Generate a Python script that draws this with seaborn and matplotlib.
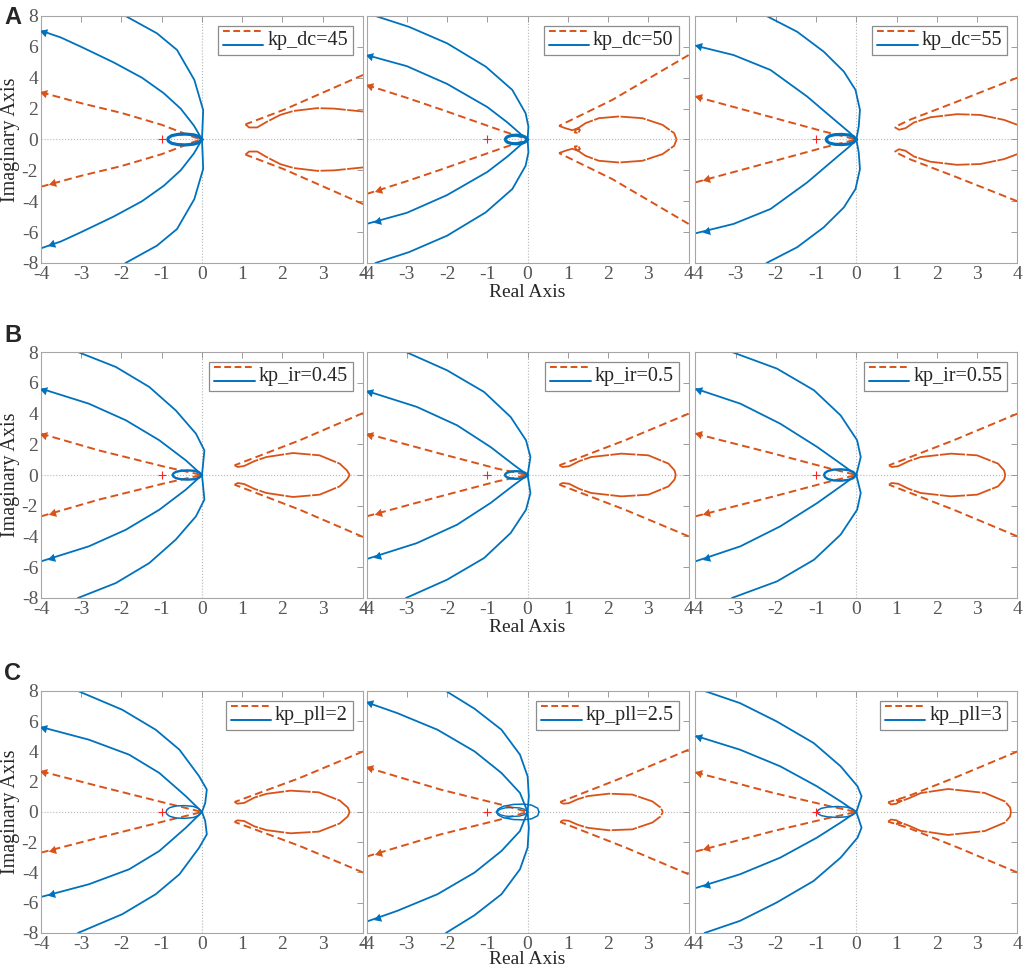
import numpy as np
import matplotlib
matplotlib.use("Agg")
import matplotlib.pyplot as plt
import seaborn as sns
from matplotlib.lines import Line2D
from matplotlib.legend_handler import HandlerBase

# -----------------------------
# Data (upper half of each Nyquist branch;
# the lower half is the complex conjugate)
# panel order: A1 A2 A3  B1 B2 B3  C1 C2 C3
# -----------------------------
legend_labels = ["kp_dc=45", "kp_dc=50", "kp_dc=55",
                 "kp_ir=0.45", "kp_ir=0.5", "kp_ir=0.55",
                 "kp_pll=2", "kp_pll=2.5", "kp_pll=3"]
row_letters = ["A", "B", "C"]
critical_point = (-1, 0)

blue_outer = [
    [(-1.9, 8), (-1.12, 6.88), (-0.62, 5.8), (-0.19, 3.86), (0.03, 1.9), (0.01, 0.6), (0, 0)],
    [(-3.78, 8), (-2.95, 7.3), (-2.0, 6.23), (-1.04, 4.72), (-0.38, 3.21), (-0.05, 1.7), (0.02, 0.84), (0, 0)],
    [(-2.23, 8), (-1.47, 6.98), (-0.81, 5.69), (-0.31, 4.4), (-0.02, 3.21), (0.09, 1.92), (0.06, 0.84), (0, 0)],
    [(-3.08, 8), (-2.14, 7.03), (-1.31, 5.73), (-0.65, 4.2), (-0.15, 2.69), (0.06, 1.6), (0.02, 0.52), (0, 0)],
    [(-3.02, 8), (-2.0, 6.81), (-1.08, 5.4), (-0.42, 3.77), (-0.04, 2.26), (0.07, 1.17), (0, 0)],
    [(-3.09, 8), (-1.97, 6.92), (-1.05, 5.51), (-0.39, 3.88), (0.02, 2.26), (0.11, 1.17), (0, 0)],
    [(-3.08, 8), (-1.98, 6.76), (-1.15, 5.44), (-0.56, 4.12), (-0.07, 2.36), (0.12, 1.48), (0.08, 0.59), (0, 0)],
    [(-2.03, 8), (-1.32, 6.83), (-0.65, 5.44), (-0.19, 3.79), (0.0, 2.36), (0.03, 1.04), (0, 0)],
    [(-3.77, 8), (-2.89, 7.2), (-1.98, 5.99), (-1.06, 4.56), (-0.39, 3.02), (0.03, 1.7), (0.13, 1.04), (0, 0)],
]

blue_inner = [
    [(-4, 7.05), (-3.5, 6.6), (-3.0, 6.0), (-2.2, 5.0), (-1.49, 4.0), (-0.95, 3.0), (-0.53, 2.0), (-0.2, 0.9), (0, 0)],
    [(-4, 5.47), (-3.0, 4.75), (-2.0, 3.6), (-1.0, 2.1), (-0.5, 1.1), (-0.15, 0.3), (0, 0)],
    [(-4, 6.08), (-3.05, 5.47), (-2.13, 4.5), (-1.22, 2.78), (-0.64, 1.49), (-0.15, 0.41), (0, 0)],
    [(-4, 5.62), (-2.81, 4.64), (-1.89, 3.56), (-1.06, 2.26), (-0.4, 0.95), (0, 0)],
    [(-4, 5.47), (-2.75, 4.43), (-1.75, 3.23), (-0.92, 1.82), (-0.33, 0.63), (0, 0)],
    [(-4, 5.62), (-2.88, 4.64), (-1.89, 3.34), (-0.97, 1.82), (-0.39, 0.74), (0, 0)],
    [(-4, 5.62), (-2.81, 4.78), (-1.81, 3.79), (-1.06, 2.58), (-0.4, 1.04), (0, 0)],
    [(-4, 7.25), (-3.24, 6.54), (-2.24, 5.44), (-1.32, 4.01), (-0.65, 2.58), (-0.19, 1.26), (0, 0)],
    [(-4, 5.04), (-2.89, 4.12), (-1.89, 3.02), (-0.98, 1.7), (-0.39, 0.7), (0, 0)],
]

orange_left = [
    [(-4, 3.06), (-3, 2.35), (-2, 1.72), (-1, 0.95), (-0.5, 0.45), (-0.2, 0.15), (0, 0)],
    [(-4, 3.53), (-3, 2.7), (-2.12, 1.92), (-0.71, 0.63), (0, 0)],
    [(-4, 2.78), (-2.47, 1.7), (-0.81, 0.52), (0, 0)],
    [(-4, 2.69), (-2.56, 1.6), (-0.9, 0.52), (0, 0)],
    [(-4, 2.69), (-2.17, 1.39), (-0.75, 0.41), (0, 0)],
    [(-4, 2.69), (-2.05, 1.39), (-0.64, 0.41), (0, 0)],
    [(-4, 2.69), (-2.56, 1.7), (-0.9, 0.59), (0, 0)],
    [(-4, 2.95), (-2.16, 1.48), (-0.65, 0.48), (0, 0)],
    [(-4, 2.62), (-2.06, 1.26), (-0.64, 0.37), (0, 0)],
]

orange_right_outer = [
    [(4, 4.18), (2.03, 1.92), (1.08, 0.98)],
    [(4, 5.47), (2.1, 2.56), (0.78, 0.88)],
    [(4, 4.0), (2.5, 2.45), (1.35, 1.3), (0.95, 0.8)],
    [(4, 4.03), (2.43, 2.26), (0.81, 0.63)],
    [(4, 3.99), (2.42, 2.26), (0.79, 0.63)],
    [(4, 3.99), (2.42, 2.26), (0.81, 0.63)],
    [(4, 4.0), (2.43, 2.25), (0.81, 0.66)],
    [(4, 4.12), (2.44, 2.36), (0.81, 0.66)],
    [(4, 4.0), (2.53, 2.36), (1.28, 1.04), (0.79, 0.64)],
]

orange_right_inner = [
    [(1.08, 0.98), (1.17, 0.78), (1.37, 0.78), (1.62, 1.16), (1.95, 1.6), (2.28, 1.85),
     (2.86, 2.03), (3.28, 2.0), (4, 1.81)],
    [(0.78, 0.88), (0.95, 0.72), (1.11, 0.6), (1.24, 0.72), (1.3, 0.62), (1.26, 0.42),
     (1.17, 0.45), (1.2, 0.62), (1.32, 0.85), (1.44, 1.06), (1.77, 1.38), (2.27, 1.49),
     (2.85, 1.38), (3.35, 0.95), (3.64, 0.41), (3.7, 0)],
    [(0.95, 0.8), (1.06, 0.63), (1.22, 0.73), (1.43, 1.1), (1.84, 1.44), (2.5, 1.64),
     (3.08, 1.59), (3.67, 1.27), (4, 0.95)],
    [(0.81, 0.63), (0.89, 0.52), (1.05, 0.59), (1.3, 0.9), (1.6, 1.17), (2.26, 1.43),
     (2.92, 1.28), (3.42, 0.74), (3.6, 0.3), (3.67, 0)],
    [(0.79, 0.63), (0.87, 0.52), (1.03, 0.57), (1.28, 0.9), (1.58, 1.17), (2.33, 1.39),
     (3.0, 1.28), (3.5, 0.74), (3.65, 0.3), (3.68, 0)],
    [(0.81, 0.63), (0.88, 0.52), (1.04, 0.57), (1.3, 0.9), (1.6, 1.17), (2.35, 1.39),
     (3.0, 1.28), (3.52, 0.74), (3.67, 0.3), (3.7, 0)],
    [(0.81, 0.66), (0.88, 0.55), (1.05, 0.6), (1.3, 0.95), (1.6, 1.2), (2.2, 1.41),
     (2.9, 1.3), (3.42, 0.76), (3.62, 0.3), (3.67, 0)],
    [(0.81, 0.66), (0.88, 0.55), (1.02, 0.58), (1.25, 0.85), (1.5, 1.05), (2.02, 1.21),
     (2.6, 1.15), (3.1, 0.7), (3.3, 0.3), (3.36, 0)],
    [(0.79, 0.64), (0.86, 0.5), (1.0, 0.55), (1.1, 0.75), (1.0, 0.8), (1.05, 0.65),
     (1.3, 0.9), (1.6, 1.25), (2.28, 1.52), (3.19, 1.26), (3.69, 0.7), (3.82, 0.3), (3.84, 0)],
]

blue_loop = [
    [(0, 0), (-0.08, 0.2), (-0.2, 0.3), (-0.4, 0.35), (-0.6, 0.33), (-0.75, 0.25), (-0.83, 0.12), (-0.85, 0)],
    [(0, 0), (-0.06, 0.16), (-0.15, 0.25), (-0.28, 0.28), (-0.4, 0.26), (-0.5, 0.18), (-0.54, 0.09), (-0.55, 0)],
    [(0, 0), (-0.07, 0.19), (-0.18, 0.29), (-0.36, 0.33), (-0.54, 0.31), (-0.67, 0.23), (-0.73, 0.11), (-0.75, 0)],
    [(0, 0), (-0.07, 0.17), (-0.18, 0.27), (-0.35, 0.3), (-0.52, 0.28), (-0.65, 0.2), (-0.71, 0.1), (-0.73, 0)],
    [(0, 0), (-0.06, 0.14), (-0.15, 0.22), (-0.28, 0.25), (-0.41, 0.23), (-0.5, 0.16), (-0.55, 0.08), (-0.56, 0)],
    [(0, 0), (-0.08, 0.21), (-0.2, 0.32), (-0.38, 0.37), (-0.57, 0.35), (-0.71, 0.26), (-0.78, 0.13), (-0.8, 0)],
    [(0, 0), (-0.09, 0.24), (-0.22, 0.37), (-0.43, 0.42), (-0.64, 0.4), (-0.8, 0.29), (-0.87, 0.15), (-0.89, 0)],
    [(0.28, 0), (0.25, 0.25), (0.1, 0.45), (-0.1, 0.52), (-0.35, 0.5), (-0.6, 0.38), (-0.73, 0.2), (-0.78, 0)],
    [(0, 0), (-0.1, 0.21), (-0.24, 0.32), (-0.47, 0.36), (-0.7, 0.33), (-0.87, 0.24), (-0.95, 0.12), (-0.97, 0)],
]
# second, smaller loop visible only in panel C2
blue_loop_c2 = [(0, 0), (-0.08, 0.18), (-0.2, 0.27), (-0.38, 0.3), (-0.56, 0.27), (-0.68, 0.18), (-0.73, 0.09), (-0.75, 0)]

# -----------------------------
# Style
# -----------------------------
BLUE = "#0072BD"
ORANGE = "#D95319"
TICK_GREY = "#555555"
SERIF = ["Liberation Serif", "DejaVu Serif"]

sns.set_style("white")
plt.rcParams["font.family"] = SERIF
plt.rcParams["axes.unicode_minus"] = False
plt.rcParams["xtick.direction"] = "in"
plt.rcParams["ytick.direction"] = "in"

fig = plt.figure(figsize=(10.24, 9.69), dpi=100)

col_left = [0.040, 0.358, 0.679]
col_w = 0.3145
row_bottom = [0.7286, 0.3829, 0.0372]
row_h = [0.2549, 0.2538, 0.2497]
letter_y = [0.982, 0.654, 0.305]
loop_lw = [2.3, 1.7, 1.1]
xlabel_pad = [1, 1, -1.5]


class PairHandler(HandlerBase):
    # dashed orange over solid blue, one text label (as in MATLAB nyquist legend)
    def create_artists(self, legend, orig_handle, xdescent, ydescent,
                       width, height, fontsize, trans):
        x = [-xdescent, width - xdescent]
        top = Line2D(x, [height * 1.0 - ydescent] * 2, color=ORANGE, lw=1.4,
                     ls=(0, (3.5, 1.8)), transform=trans)
        bot = Line2D(x, [height * 0.0 - ydescent] * 2, color=BLUE, lw=1.4,
                     transform=trans)
        return [top, bot]


def draw(ax, pts, flip=False, **kw):
    pts = np.asarray(pts, dtype=float)
    y = -pts[:, 1] if flip else pts[:, 1]
    sns.lineplot(x=pts[:, 0], y=y, sort=False, estimator=None, ax=ax,
                 legend=False, **kw)


def draw_loop(ax, pts, **kw):
    pts = np.asarray(pts, dtype=float)
    low = pts[::-1].copy()
    low[:, 1] *= -1
    full = np.vstack([pts, low])
    sns.lineplot(x=full[:, 0], y=full[:, 1], sort=False, estimator=None, ax=ax,
                 legend=False, **kw)


def arrow(ax, pts, xt, color, flip=False):
    p0 = np.asarray(pts[0], dtype=float)
    p1 = np.asarray(pts[1], dtype=float)
    t = (xt - p0[0]) / (p1[0] - p0[0])
    p = p0 + t * (p1 - p0)
    d = p0 - p1
    if flip:
        p[1] = -p[1]
        d[1] = -d[1]
    a = ax.transData.transform(p)
    b = ax.transData.transform(p + 0.05 * d)
    ang = np.degrees(np.arctan2(b[1] - a[1], b[0] - a[0]))
    ax.plot(p[0], p[1], marker=(3, 0, ang - 90), ms=7, color=color,
            mew=0, zorder=5)


for k in range(9):
    r, c = divmod(k, 3)
    ax = fig.add_axes([col_left[c], row_bottom[r], col_w, row_h[r]])
    ax.set_xlim(-4, 4)
    ax.set_ylim(-8, 8)

    ax.axhline(0, color="#b5b5b5", ls=":", lw=0.8, zorder=0)
    ax.axvline(0, color="#b5b5b5", ls=":", lw=0.8, zorder=0)

    for flip in (False, True):
        draw(ax, blue_outer[k], flip, color=BLUE, lw=1.3)
        draw(ax, blue_inner[k], flip, color=BLUE, lw=1.3)
        draw(ax, orange_left[k], flip, color=ORANGE, lw=1.4, ls=(0, (4, 2.2)))
        draw(ax, orange_right_outer[k], flip, color=ORANGE, lw=1.4, ls=(0, (4, 2.2)))
        draw(ax, orange_right_inner[k], flip, color=ORANGE, lw=1.3, ls=(0, (14, 0.8)))

    draw_loop(ax, blue_loop[k], color=BLUE, lw=loop_lw[r])
    if k == 7:
        draw_loop(ax, blue_loop_c2, color=BLUE, lw=1.0)

    ax.plot(*critical_point, marker="+", color="#ff2020", ms=6, mew=0.8, zorder=4)

    arrow(ax, blue_inner[k], -3.92, BLUE)
    arrow(ax, blue_inner[k], -3.72, BLUE, flip=True)
    arrow(ax, orange_left[k], -3.92, ORANGE)
    arrow(ax, orange_left[k], -3.70, ORANGE, flip=True)

    ax.set_xticks(np.arange(-4, 5, 1))
    ax.set_yticks(np.arange(-8, 9, 2))
    ax.tick_params(axis="both", which="both", top=True, right=True, length=4,
                   width=0.6, color="#8c8c8c", labelsize=14,
                   labelcolor=TICK_GREY, pad=2)
    if c != 0:
        ax.set_yticklabels([])
    else:
        ax.set_ylabel("Imaginary Axis", fontsize=14.5, labelpad=1)
    if c == 1:
        ax.set_xlabel("Real Axis", fontsize=14, labelpad=xlabel_pad[r])
    for s in ax.spines.values():
        s.set_color("#a6a6a6")
        s.set_linewidth(0.8)

    h = Line2D([], [])
    leg = ax.legend([h], [legend_labels[k]], handler_map={Line2D: PairHandler()},
                    loc="upper right", fontsize=14.5, frameon=True, fancybox=False,
                    edgecolor="#8c8c8c", framealpha=1, borderpad=0.25,
                    handlelength=2.0, handletextpad=0.2, borderaxespad=0.5)
    leg.get_frame().set_linewidth(0.9)

    if c == 0:
        fig.text(0.004, letter_y[r], row_letters[r], fontsize=17, fontweight="bold",
                 family=["Liberation Sans", "DejaVu Sans"], va="center", ha="left")

plt.savefig("out.png", dpi=100)
